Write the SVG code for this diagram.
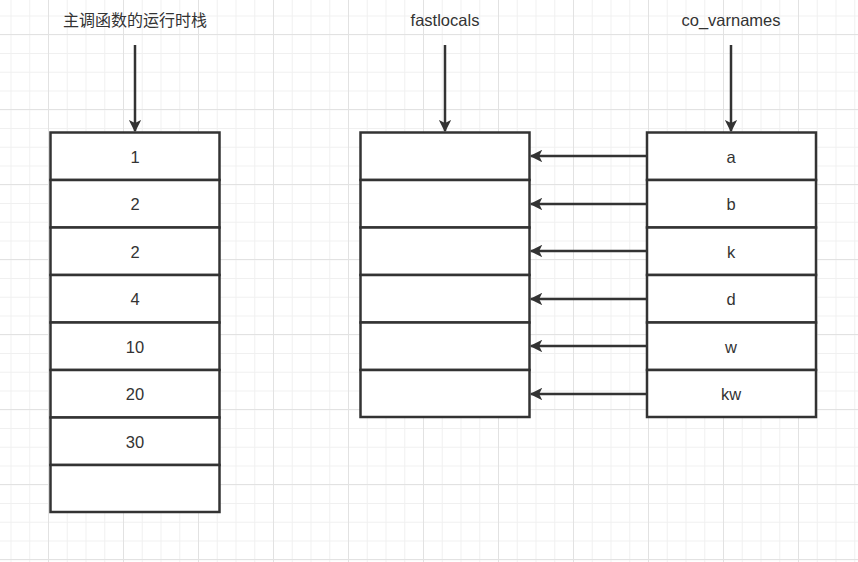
<svg xmlns="http://www.w3.org/2000/svg" width="858" height="562" viewBox="0 0 858 562">
<defs>
<pattern id="minor" patternUnits="userSpaceOnUse" x="10.5" y="15.5" width="18.75" height="18.75">
<path d="M0 0.5H18.75M0.5 0V18.75" fill="none" stroke="#f0f0f0" stroke-width="1"/>
</pattern>
<pattern id="major" patternUnits="userSpaceOnUse" x="48" y="34" width="75" height="75">
<path d="M0 0.5H75M0.5 0V75" fill="none" stroke="#e2e2e2" stroke-width="1"/>
</pattern>
<marker id="ah" viewBox="0 0 10 10" refX="9" refY="5" markerWidth="5.5" markerHeight="5" orient="auto" markerUnits="strokeWidth">
<path d="M0 0L10 5L0 10L2.5 5Z" fill="#333"/>
</marker>
<style>
.c{fill:#fff;stroke:#333;stroke-width:2.5}
.t{font-family:"Liberation Sans","Noto Sans CJK SC",sans-serif;font-size:16.5px;fill:#333;text-anchor:middle}
.e{stroke:#333;stroke-width:2.5;fill:none;marker-end:url(#ah)}
</style>
</defs>
<rect width="858" height="562" fill="#fff"/>
<rect width="858" height="562" fill="url(#minor)"/>
<rect width="858" height="562" fill="url(#major)"/>
<g id="labels">
<text class="t" x="135" y="26" style="font-size:16px">主调函数的运行时栈</text>
<text class="t" x="445" y="26">fastlocals</text>
<text class="t" x="731" y="26">co_varnames</text>
</g>
<g id="stack">
<rect class="c" x="50.5" y="132.5" width="169" height="47.5"/>
<rect class="c" x="50.5" y="180" width="169" height="47.5"/>
<rect class="c" x="50.5" y="227.5" width="169" height="47.5"/>
<rect class="c" x="50.5" y="275" width="169" height="47.5"/>
<rect class="c" x="50.5" y="322.5" width="169" height="47.5"/>
<rect class="c" x="50.5" y="370" width="169" height="47.5"/>
<rect class="c" x="50.5" y="417.5" width="169" height="47.5"/>
<rect class="c" x="50.5" y="465" width="169" height="47"/>
<text class="t" x="135" y="163">1</text>
<text class="t" x="135" y="210">2</text>
<text class="t" x="135" y="258">2</text>
<text class="t" x="135" y="305">4</text>
<text class="t" x="135" y="353">10</text>
<text class="t" x="135" y="400">20</text>
<text class="t" x="135" y="448">30</text>
</g>
<g id="fastlocals">
<rect class="c" x="360.5" y="132.5" width="169" height="47.5"/>
<rect class="c" x="360.5" y="180" width="169" height="47.5"/>
<rect class="c" x="360.5" y="227.5" width="169" height="47.5"/>
<rect class="c" x="360.5" y="275" width="169" height="47.5"/>
<rect class="c" x="360.5" y="322.5" width="169" height="47.5"/>
<rect class="c" x="360.5" y="370" width="169" height="47"/>
</g>
<g id="co_varnames">
<rect class="c" x="647" y="132.5" width="169" height="47.5"/>
<rect class="c" x="647" y="180" width="169" height="47.5"/>
<rect class="c" x="647" y="227.5" width="169" height="47.5"/>
<rect class="c" x="647" y="275" width="169" height="47.5"/>
<rect class="c" x="647" y="322.5" width="169" height="47.5"/>
<rect class="c" x="647" y="370" width="169" height="47"/>
<text class="t" x="731" y="163">a</text>
<text class="t" x="731" y="210">b</text>
<text class="t" x="731" y="258">k</text>
<text class="t" x="731" y="305">d</text>
<text class="t" x="731" y="353">w</text>
<text class="t" x="731" y="400">kw</text>
</g>
<g id="connectors">
<line class="e" x1="135" y1="45" x2="135" y2="131"/>
<line class="e" x1="445" y1="45" x2="445" y2="131"/>
<line class="e" x1="731" y1="45" x2="731" y2="131"/>
<line class="e" x1="646" y1="156" x2="531" y2="156"/>
<line class="e" x1="646" y1="204" x2="531" y2="204"/>
<line class="e" x1="646" y1="251" x2="531" y2="251"/>
<line class="e" x1="646" y1="299" x2="531" y2="299"/>
<line class="e" x1="646" y1="346" x2="531" y2="346"/>
<line class="e" x1="646" y1="394" x2="531" y2="394"/>
</g>
</svg>
